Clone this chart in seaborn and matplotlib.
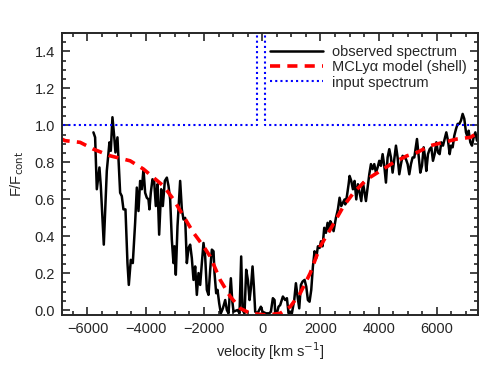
import numpy as np
import pandas as pd
import seaborn as sns
import matplotlib.pyplot as plt
from matplotlib.ticker import MultipleLocator

# observed spectrum (velocity in km/s, normalised flux)
obs_v = [-5796, -5738, -5680, -5590, -5543, -5440, -5337, -5246, -5200, -5143,
         -5085, -5040, -4971, -4879, -4822, -4765, -4696, -4627, -4581, -4512,
         -4444, -4364, -4306, -4249, -4192, -4135, -4077, -4020, -3963, -3906,
         -3872, -3826, -3769, -3711, -3654, -3597, -3539, -3470, -3413, -3344,
         -3275, -3218, -3161, -3104, -3047, -3012, -2967, -2909, -2818, -2760,
         -2703, -2646, -2588, -2531, -2474, -2417, -2359, -2302, -2245, -2188,
         -2130, -2073, -2016, -1959, -1901, -1844, -1787, -1729, -1672, -1638,
         -1581, -1535, -1477, -1420, -1351, -1271, -1214, -1157, -1077, -1031,
         -985, -847, -779, -722, -676, -607, -550, -492, -435, -389,
         -332, -286, -241, -160, -46, 11, 126, 241, 298, 366,
         424, 447, 504, 561, 618, 710, 790, 848, 905, 962,
         1019, 1100, 1157, 1214, 1271, 1329, 1386, 1455, 1512, 1569,
         1626, 1684, 1741, 1798, 1855, 1913, 1970, 2016, 2073, 2130,
         2188, 2245, 2302, 2336, 2394, 2451, 2531, 2600, 2657, 2714,
         2771, 2829, 2852, 2909, 2967, 3001, 3058, 3115, 3172, 3230,
         3287, 3344, 3402, 3459, 3505, 3562, 3619, 3677, 3734, 3791,
         3848, 3906, 3963, 4020, 4077, 4135, 4192, 4249, 4306, 4364,
         4421, 4478, 4535, 4593, 4650, 4707, 4765, 4822, 4879, 4936,
         4994, 5051, 5108, 5165, 5223, 5257, 5315, 5372, 5429, 5487,
         5544, 5601, 5635, 5693, 5750, 5807, 5864, 5921, 5979, 6036,
         6093, 6150, 6208, 6265, 6322, 6380, 6437, 6483, 6540, 6597,
         6654, 6712, 6769, 6826, 6883, 6940, 6998, 7055, 7089, 7147,
         7204, 7261, 7319, 7376, 7433]
obs_f = [0.962, 0.935, 0.654, 0.772, 0.672, 0.354, 0.753, 0.908, 0.862, 1.044,
         0.944, 0.853, 0.935, 0.635, 0.617, 0.545, 0.545, 0.254, 0.136, 0.272,
         0.254, 0.472, 0.663, 0.536, 0.699, 0.654, 0.763, 0.635, 0.608, 0.599,
         0.545, 0.635, 0.708, 0.699, 0.563, 0.681, 0.408, 0.654, 0.563, 0.699,
         0.717, 0.672, 0.599, 0.381, 0.254, 0.345, 0.191, 0.454, 0.699, 0.545,
         0.490, 0.499, 0.254, 0.336, 0.354, 0.281, 0.163, 0.236, 0.082, 0.200,
         0.136, 0.254, 0.363, 0.290, 0.109, 0.082, 0.218, 0.327, 0.318, 0.200,
         0.091, 0.109, 0.036, -0.018, 0.009, 0.054, 0.000, -0.018, 0.172, 0.054,
         -0.009, 0.000, -0.018, 0.290, 0.000, -0.018, 0.218, 0.163, 0.054, 0.118,
         0.236, 0.127, -0.009, -0.018, 0.018, -0.009, -0.018, -0.018, -0.009, 0.064,
         0.054, -0.018, -0.018, 0.018, 0.027, 0.073, 0.054, 0.064, -0.018, -0.009,
         -0.018, 0.054, 0.145, 0.073, 0.009, 0.136, 0.154, 0.163, 0.127, 0.054,
         0.045, 0.109, 0.236, 0.318, 0.281, 0.345, 0.336, 0.372, 0.345, 0.445,
         0.418, 0.472, 0.427, 0.481, 0.463, 0.427, 0.499, 0.545, 0.608, 0.563,
         0.581, 0.599, 0.572, 0.617, 0.681, 0.726, 0.699, 0.654, 0.699, 0.599,
         0.681, 0.635, 0.590, 0.690, 0.645, 0.590, 0.663, 0.735, 0.790, 0.763,
         0.790, 0.744, 0.772, 0.808, 0.781, 0.844, 0.781, 0.690, 0.826, 0.871,
         0.826, 0.744, 0.817, 0.890, 0.826, 0.735, 0.790, 0.835, 0.826, 0.817,
         0.790, 0.735, 0.790, 0.826, 0.826, 0.862, 0.926, 0.835, 0.744, 0.781,
         0.881, 0.817, 0.753, 0.844, 0.871, 0.881, 0.808, 0.844, 0.908, 0.853,
         0.844, 0.908, 0.890, 0.926, 0.962, 0.917, 0.844, 0.890, 0.881, 0.944,
         0.980, 1.008, 1.008, 1.026, 1.062, 1.035, 0.962, 0.935, 0.971, 0.908,
         0.890, 0.935, 0.962, 0.917, 0.935]

# MCLya shell model
model_v = [-6940, -6769, -6254, -5796, -5223, -4536, -4077, -3734, -3390, -3047,
           -2703, -2359, -2016, -1787, -1443, -1100, -756, -412, 160, 618,
           962, 1306, 1649, 1993, 2336, 2795, 3138, 3597, 4054, 4513,
           4971, 5315, 5773, 6230, 6689, 7147, 7433]
model_f = [0.930, 0.917, 0.908, 0.871, 0.835, 0.808, 0.763, 0.717, 0.672, 0.599,
           0.508, 0.418, 0.345, 0.290, 0.163, 0.073, 0.009, -0.018, -0.027, -0.018,
           0.018, 0.091, 0.200, 0.345, 0.436, 0.563, 0.635, 0.708, 0.753, 0.799,
           0.835, 0.853, 0.890, 0.908, 0.926, 0.935, 0.962]

# input spectrum: flat continuum plus narrow line at v=0
input_v = [-7000, -170, -170, 100, 100, 7500]
input_f = [1.0, 1.0, 5.0, 5.0, 1.0, 1.0]

labels = ["observed spectrum", "MCLy\u03b1 model (shell)", "input spectrum"]

sns.set_style("ticks")
plt.rcParams['font.family'] = ['Liberation Sans', 'DejaVu Sans']
plt.rcParams['font.size'] = 10.5

fig = plt.figure(figsize=(4.91, 3.82), dpi=100)
ax = fig.add_axes([0.1257, 0.1754, 0.8478, 0.7382])

sns.lineplot(x=obs_v, y=obs_f, ax=ax, color="black", lw=1.8,
             estimator=None, sort=False, label=labels[0])
sns.lineplot(x=model_v, y=model_f, ax=ax, color="red", lw=2.6,
             linestyle=(0, (2.8, 2)), estimator=None, sort=False, label=labels[1])
sns.lineplot(x=input_v, y=input_f, ax=ax, color="blue", lw=1.5,
             linestyle=(0, (1, 1.5)), estimator=None, sort=False, label=labels[2])

ax.set_xlim(-6885, 7410)
ax.set_ylim(-0.027, 1.5)
ax.xaxis.set_major_locator(MultipleLocator(2000))
ax.xaxis.set_minor_locator(MultipleLocator(500))
ax.yaxis.set_major_locator(MultipleLocator(0.2))
ax.yaxis.set_minor_locator(MultipleLocator(0.05))
ax.yaxis.set_major_formatter(plt.FuncFormatter(lambda v, p: f"{v:.1f}"))
ax.tick_params(which="both", direction="in", top=True, right=True, width=1.2)
ax.tick_params(which="major", length=6, labelsize=10.5, pad=5)
ax.tick_params(which="minor", length=3)
for s in ax.spines.values():
    s.set_linewidth(1.4)

ax.set_xlabel("velocity [km s$^{-1}$]", fontsize=10.5, labelpad=3)
ax.set_ylabel("F/F$_{\\rm cont}$", fontsize=10.5, labelpad=6)

ax.legend(loc="upper right", frameon=False, fontsize=10.5, handlelength=3.6,
          labelspacing=0.1, borderaxespad=0.4, handletextpad=0.6)

fig.savefig("out.png", dpi=100)
